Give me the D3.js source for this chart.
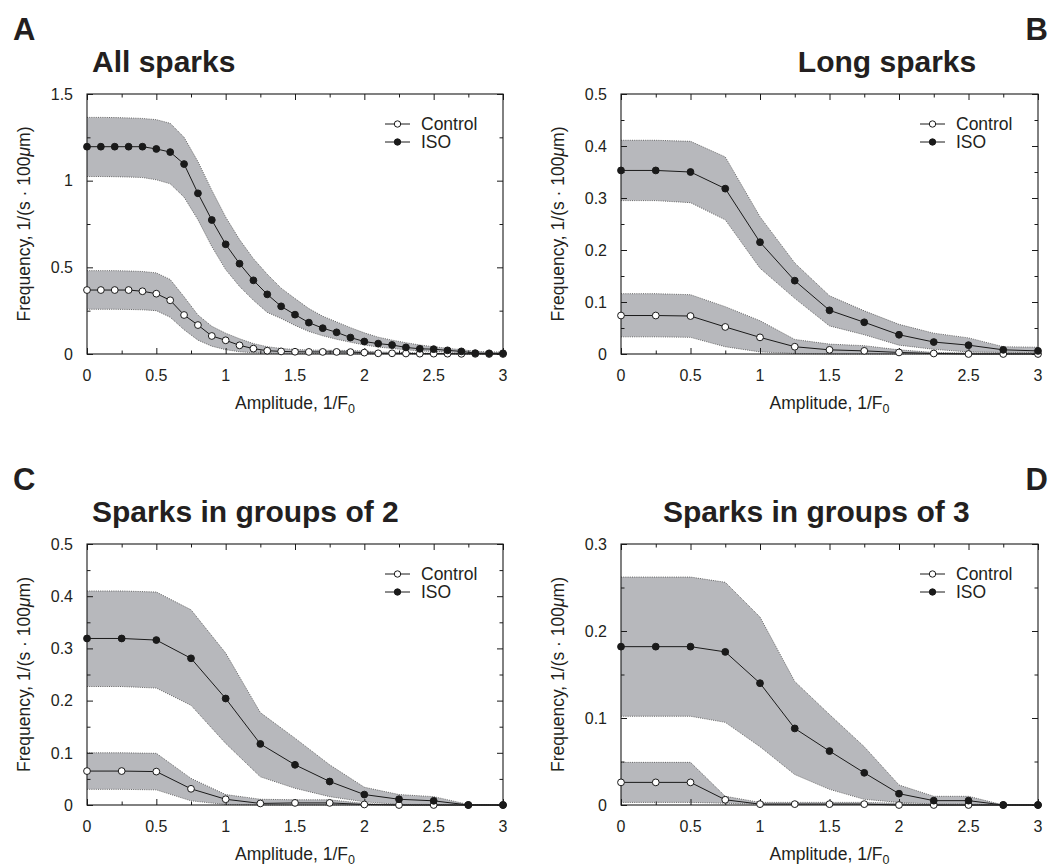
<!DOCTYPE html>
<html>
<head>
<meta charset="utf-8">
<script src="https://cdn.jsdelivr.net/npm/d3@7"></script>
<style>
  html, body { margin: 0; padding: 0; background: #fff; }
  svg { display: block; }
  text { fill: #231f20; font-family: "Liberation Sans", Arial, sans-serif; }
</style>
</head>
<body>
<svg id="fig" width="1059" height="867"></svg>
<script>
// ---- amplitude grids ----
const ampA = [0,0.1,0.2,0.3,0.4,0.5,0.6,0.7,0.8,0.9,1.0,1.1,1.2,1.3,1.4,1.5,1.6,1.7,1.8,1.9,2.0,2.1,2.2,2.3,2.4,2.5,2.6,2.7,2.8,2.9,3.0];
const ampQ = [0,0.25,0.5,0.75,1.0,1.25,1.5,1.75,2.0,2.25,2.5,2.75,3.0];

// ---- A: all sparks ----
const isoA   = [1.196,1.196,1.196,1.196,1.196,1.183,1.165,1.096,0.927,0.773,0.633,0.521,0.425,0.344,0.275,0.227,0.181,0.149,0.125,0.095,0.072,0.060,0.052,0.038,0.030,0.028,0.021,0.015,0.005,0.004,0.004];
const isoHiA = [1.365,1.365,1.364,1.362,1.359,1.352,1.331,1.250,1.110,0.945,0.790,0.660,0.550,0.460,0.380,0.320,0.262,0.218,0.185,0.152,0.122,0.097,0.080,0.065,0.052,0.042,0.033,0.025,0.016,0.012,0.012];
const isoLoA = [1.024,1.024,1.023,1.021,1.018,1.005,0.982,0.905,0.775,0.620,0.487,0.390,0.310,0.240,0.205,0.165,0.130,0.105,0.085,0.068,0.052,0.040,0.032,0.024,0.018,0.015,0.011,0.007,0.003,0.002,0.002];
const ctlA   = [0.369,0.369,0.369,0.369,0.362,0.348,0.310,0.225,0.167,0.104,0.079,0.050,0.031,0.019,0.015,0.013,0.012,0.012,0.012,0.011,0.008,0.004,0.004,0.003,0.002,0.002,0.002,0.001,0.001,0,0];
const ctlHiA = [0.481,0.481,0.481,0.479,0.476,0.468,0.430,0.330,0.225,0.160,0.120,0.088,0.060,0.042,0.032,0.026,0.023,0.022,0.021,0.020,0.017,0.012,0.010,0.008,0.006,0.005,0.004,0.003,0.002,0.001,0.001];
const ctlLoA = [0.258,0.258,0.258,0.257,0.255,0.250,0.212,0.140,0.080,0.045,0.025,0.013,0.007,0.004,0.003,0.003,0.003,0.003,0.003,0.002,0.001,0,0,0,0,0,0,0,0,0,0];

// ---- B: long sparks ----
const isoB   = [0.353,0.353,0.350,0.318,0.215,0.141,0.084,0.061,0.037,0.023,0.017,0.008,0.006];
const isoHiB = [0.411,0.411,0.409,0.379,0.264,0.175,0.112,0.083,0.057,0.040,0.031,0.014,0.013];
const isoLoB = [0.295,0.295,0.291,0.258,0.165,0.107,0.054,0.037,0.017,0.009,0.004,0.003,0.003];
const ctlB   = [0.074,0.074,0.073,0.052,0.032,0.014,0.008,0.006,0.003,0.001,0,0,0];
const ctlHiB = [0.116,0.116,0.114,0.091,0.064,0.028,0.019,0.016,0.008,0.003,0.002,0.002,0.002];
const ctlLoB = [0.033,0.033,0.032,0.014,0.004,0.001,0,0,0,0,0,0,0];

// ---- C: sparks in groups of 2 ----
const isoC   = [0.319,0.319,0.316,0.281,0.204,0.117,0.077,0.045,0.020,0.011,0.008,0,0];
const isoHiC = [0.410,0.410,0.408,0.374,0.291,0.177,0.128,0.077,0.034,0.020,0.016,0.001,0];
const isoLoC = [0.227,0.227,0.224,0.191,0.118,0.054,0.032,0.016,0.006,0.001,0.001,0,0];
const ctlC   = [0.065,0.065,0.064,0.031,0.011,0.003,0.004,0.004,0.001,0,0,0,0];
const ctlHiC = [0.100,0.100,0.099,0.051,0.020,0.011,0.010,0.010,0.003,0,0,0,0];
const ctlLoC = [0.030,0.030,0.029,0.008,0.001,0,0,0,0,0,0,0,0];

// ---- D: sparks in groups of 3 ----
const isoD   = [0.182,0.182,0.182,0.176,0.140,0.088,0.062,0.037,0.013,0.005,0.005,0,0];
const isoHiD = [0.262,0.262,0.262,0.256,0.216,0.142,0.104,0.067,0.023,0.010,0.010,0,0];
const isoLoD = [0.102,0.102,0.102,0.095,0.067,0.035,0.018,0.0065,0.003,0.001,0.001,0,0];
const ctlD   = [0.026,0.026,0.026,0.006,0.001,0.001,0.001,0.001,0,0,0,0,0];
const ctlHiD = [0.049,0.049,0.049,0.010,0.003,0.003,0.003,0.003,0.002,0,0,0,0];
const ctlLoD = [0.003,0.003,0.003,0.002,0.001,0.001,0.001,0.001,0,0,0,0,0];

// ---- ticks ----
const xMajor = [0,0.5,1,1.5,2,2.5,3];
const xMinor = [0,0.25,0.5,0.75,1,1.25,1.5,1.75,2,2.25,2.5,2.75,3];
const yMajorA = [0,0.5,1,1.5];
const yMinorA = [0,0.25,0.5,0.75,1,1.25,1.5];
const yMajorBC = [0,0.1,0.2,0.3,0.4,0.5];
const yMinorBC = [0,0.05,0.1,0.15,0.2,0.25,0.3,0.35,0.4,0.45,0.5];
const yMajorD = [0,0.1,0.2,0.3];
const yMinorD = [0,0.05,0.1,0.15,0.2,0.25,0.3];

const panelLetters = ["A","B","C","D"];
const panelTitles = ["All sparks","Long sparks","Sparks in groups of 2","Sparks in groups of 3"];
const seriesNames = ["Control","ISO"];

// ---- layout of the four panels ----
const panels = [
  { letter: panelLetters[0], title: panelTitles[0], amp: ampA, ctl: [ctlA, ctlLoA, ctlHiA], iso: [isoA, isoLoA, isoHiA],
    yMax: 1.5, yMajor: yMajorA, yMinor: yMinorA,
    box: { l: 87, r: 503, t: 94, b: 354 }, titleX: 92, titleAnchor: "start", letterX: 13, letterAnchor: "start" },
  { letter: panelLetters[1], title: panelTitles[1], amp: ampQ, ctl: [ctlB, ctlLoB, ctlHiB], iso: [isoB, isoLoB, isoHiB],
    yMax: 0.5, yMajor: yMajorBC, yMinor: yMinorBC,
    box: { l: 621, r: 1038, t: 94, b: 354 }, titleX: 887, titleAnchor: "middle", letterX: 1048, letterAnchor: "end" },
  { letter: panelLetters[2], title: panelTitles[2], amp: ampQ, ctl: [ctlC, ctlLoC, ctlHiC], iso: [isoC, isoLoC, isoHiC],
    yMax: 0.5, yMajor: yMajorBC, yMinor: yMinorBC,
    box: { l: 87, r: 503, t: 544, b: 805 }, titleX: 92, titleAnchor: "start", letterX: 13, letterAnchor: "start" },
  { letter: panelLetters[3], title: panelTitles[3], amp: ampQ, ctl: [ctlD, ctlLoD, ctlHiD], iso: [isoD, isoLoD, isoHiD],
    yMax: 0.3, yMajor: yMajorD, yMinor: yMinorD,
    box: { l: 621, r: 1038, t: 544, b: 805 }, titleX: 663, titleAnchor: "start", letterX: 1048, letterAnchor: "end" }
];

const svg = d3.select("#fig");
const BAND = "#b7b8bc";
const INK = "#1a1a1a";

panels.forEach(p => {
  const { l, r, t, b } = p.box;
  const x = d3.scaleLinear().domain([0, 3]).range([l, r]);
  const y = d3.scaleLinear().domain([0, p.yMax]).range([b, t]);
  const g = svg.append("g");

  // panel letter and title
  g.append("text").attr("x", p.letterX).attr("y", t - 54)
    .attr("text-anchor", p.letterAnchor)
    .style("font-size", "31px").style("font-weight", "bold").text(p.letter);
  g.append("text").attr("x", p.titleX).attr("y", t - 22)
    .attr("text-anchor", p.titleAnchor)
    .style("font-size", "30px").style("font-weight", "bold").text(p.title);

  // shaded spread bands with dotted edges
  const drawBand = (mid, lo, hi) => {
    const rows = p.amp.map((a, i) => ({ a, lo: lo[i], hi: hi[i] }));
    g.append("path").datum(rows)
      .attr("d", d3.area().x(d => x(d.a)).y0(d => y(d.lo)).y1(d => y(d.hi)))
      .attr("fill", BAND);
    ["lo", "hi"].forEach(k => {
      g.append("path").datum(rows)
        .attr("d", d3.line().x(d => x(d.a)).y(d => y(d[k])))
        .attr("fill", "none").attr("stroke", "#4a4a4a")
        .attr("stroke-width", 0.8).attr("stroke-dasharray", "1,1.2");
    });
  };
  drawBand(...p.ctl);
  drawBand(...p.iso);

  // frame
  g.append("rect").attr("x", l).attr("y", t).attr("width", r - l).attr("height", b - t)
    .attr("fill", "none").attr("stroke", INK).attr("stroke-width", 1.1);

  // inward ticks on all four sides
  const addAxis = (axisFn, scale, values, size, tx, ty) => {
    const ax = g.append("g").attr("transform", `translate(${tx},${ty})`)
      .call(axisFn(scale).tickValues(values).tickSizeInner(size).tickSizeOuter(0).tickFormat(""));
    ax.select(".domain").remove();
    ax.selectAll("line").attr("stroke", INK).attr("stroke-width", 1);
    return ax;
  };
  const xMinorOnly = xMinor.filter(v => !xMajor.includes(v));
  const yMinorOnly = p.yMinor.filter(v => !p.yMajor.includes(v));
  addAxis(d3.axisBottom, x, xMajor, -6, 0, b);
  addAxis(d3.axisBottom, x, xMinorOnly, -3.5, 0, b);
  addAxis(d3.axisTop, x, xMajor, -6, 0, t);
  addAxis(d3.axisTop, x, xMinorOnly, -3.5, 0, t);
  addAxis(d3.axisLeft, y, p.yMajor, -6, l, 0);
  addAxis(d3.axisLeft, y, yMinorOnly, -3.5, l, 0);
  addAxis(d3.axisRight, y, p.yMajor, -6, r, 0);
  addAxis(d3.axisRight, y, yMinorOnly, -3.5, r, 0);

  // tick labels
  g.selectAll(null).data(xMajor).enter().append("text")
    .attr("x", d => x(d)).attr("y", b + 27).attr("text-anchor", "middle")
    .style("font-size", "16px").text(d => String(d));
  g.selectAll(null).data(p.yMajor).enter().append("text")
    .attr("x", l - 14).attr("y", d => y(d)).attr("dy", "0.36em").attr("text-anchor", "end")
    .style("font-size", "16px").text(d => String(d));

  // axis titles
  const xt = g.append("text").attr("x", (l + r) / 2).attr("y", b + 55)
    .attr("text-anchor", "middle").style("font-size", "17.5px");
  xt.append("tspan").text("Amplitude, 1/F");
  xt.append("tspan").attr("dy", 3.5).style("font-size", "12.5px").text("0");

  const yt = g.append("text")
    .attr("transform", `translate(${l - 57},${(t + b) / 2}) rotate(-90)`)
    .attr("text-anchor", "middle").style("font-size", "17.5px");
  yt.append("tspan").text("Frequency, 1/(s \u00B7 100");
  yt.append("tspan").style("font-style", "italic").text("\u03BC");
  yt.append("tspan").text("m)");

  // series lines and markers
  const drawSeries = (vals, fill) => {
    const pts = p.amp.map((a, i) => ({ a, v: vals[i] }));
    g.append("path").datum(pts)
      .attr("d", d3.line().x(d => x(d.a)).y(d => y(d.v)))
      .attr("fill", "none").attr("stroke", INK).attr("stroke-width", 1);
    g.selectAll(null).data(pts).enter().append("circle")
      .attr("cx", d => x(d.a)).attr("cy", d => y(d.v)).attr("r", 3.4)
      .attr("fill", fill).attr("stroke", INK).attr("stroke-width", 1);
  };
  drawSeries(p.ctl[0], "#fff");
  drawSeries(p.iso[0], INK);

  // legend
  seriesNames.forEach((name, i) => {
    const ly = t + 30 + i * 18;
    g.append("line").attr("x1", r - 118).attr("x2", r - 93).attr("y1", ly).attr("y2", ly)
      .attr("stroke", INK).attr("stroke-width", 1);
    g.append("circle").attr("cx", r - 105.5).attr("cy", ly).attr("r", 3.2)
      .attr("fill", i === 0 ? "#fff" : INK).attr("stroke", INK).attr("stroke-width", 1);
    g.append("text").attr("x", r - 82).attr("y", ly).attr("dy", "0.36em")
      .style("font-size", "17.5px").text(name);
  });
});
</script>
</body>
</html>
